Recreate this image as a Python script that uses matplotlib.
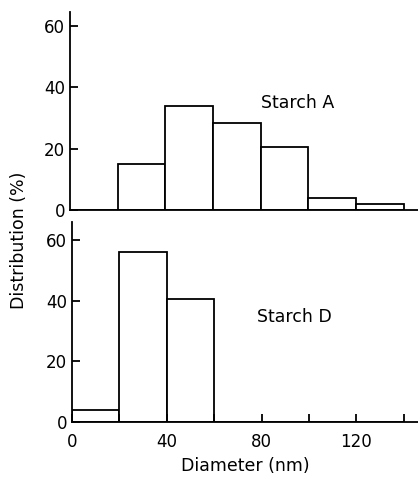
import matplotlib.pyplot as plt
import numpy as np

bin_edges = [0, 20, 40, 60, 80, 100, 120, 140]
starch_a = [0, 15, 34, 28.5, 20.5, 4, 2]
starch_d = [4, 56, 40.5, 0, 0, 0, 0]
yticks = [0, 20, 40, 60]
xticks = [0, 40, 80, 120]

fig = plt.figure(figsize=(4.18, 4.8), dpi=100)
ax_top = fig.add_axes([0.167, 0.5625, 0.833, 0.4125])
ax_bot = fig.add_axes([0.172, 0.1208, 0.828, 0.4167])

left = np.array(bin_edges[:-1])
widths = np.diff(bin_edges)

for ax, vals, name, ymax, pos in [
    (ax_top, starch_a, 'Starch A', 64.5, (80, 35)),
    (ax_bot, starch_d, 'Starch D', 66, (78, 34.5)),
]:
    ax.bar(left, vals, widths, align='edge', facecolor='white',
           edgecolor='black', linewidth=1.3)
    ax.set_xlim(0, 146)
    ax.set_ylim(0, ymax)
    ax.set_yticks(yticks)
    ax.spines['top'].set_visible(False)
    ax.spines['right'].set_visible(False)
    for s in ['left', 'bottom']:
        ax.spines[s].set_linewidth(1.3)
    ax.tick_params(direction='in', length=6, width=1.3, labelsize=12)
    ax.text(pos[0], pos[1], name, fontsize=12.5, va='center')

ax_top.set_xticks([])
ax_bot.set_xticks(np.arange(0, 141, 20))
ax_bot.set_xticklabels([str(t) if t in xticks else '' for t in range(0, 141, 20)])
ax_bot.tick_params(axis='x', pad=8)
ax_bot.set_xlabel('Diameter (nm)', fontsize=12.5)

fig.text(0.045, 0.5, 'Distribution (%)', rotation=90, fontsize=12.5,
         ha='center', va='center')

plt.savefig('out.png')
